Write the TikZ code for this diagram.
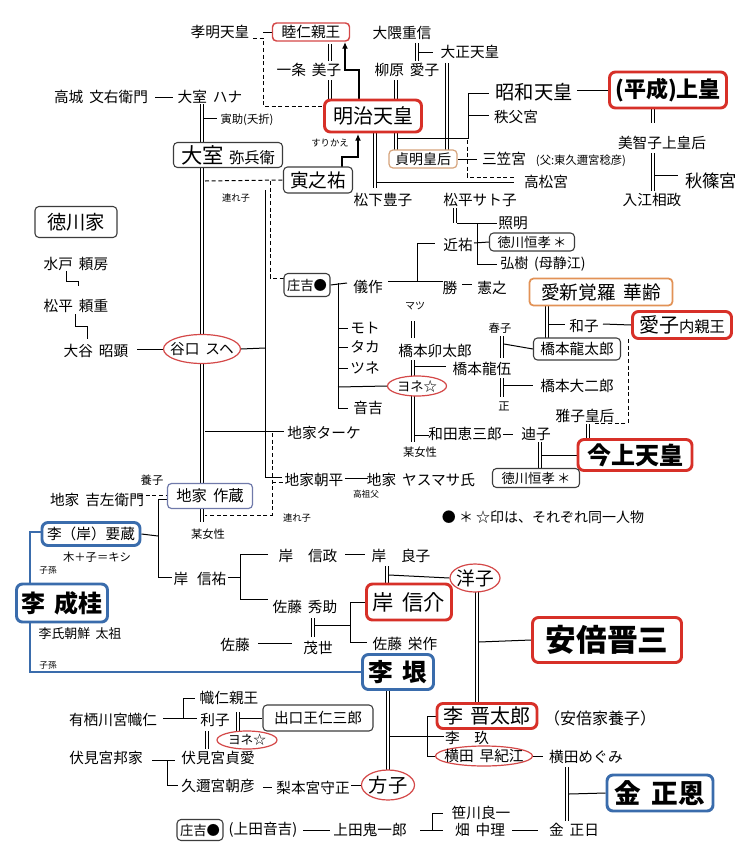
\documentclass[tikz,border=0pt]{standalone}
\usepackage{fontspec}
\setmainfont{Noto Sans CJK JP}
\usetikzlibrary{shapes.geometric,arrows.meta}
\pgfdeclarelayer{bg}
\pgfsetlayers{bg,main}
\newcommand\fsz[1]{\fontsize{#1}{#1}\selectfont}
\newcommand\jsp{\hspace{0.4em}}
\definecolor{redc}{RGB}{215,48,40}
\definecolor{redl}{RGB}{212,72,72}
\definecolor{bluec}{RGB}{58,108,172}
\definecolor{orangec}{RGB}{226,146,86}
\definecolor{tanc}{RGB}{214,164,124}
\definecolor{slatec}{RGB}{112,122,170}
\definecolor{boxgray}{RGB}{60,60,60}
\begin{document}
\begin{tikzpicture}[x=0.75pt,y=-0.75pt,
 T/.style={inner sep=0.5pt,font=\fsz{11}},
 F/.style={inner sep=0.5pt,font=\fsz{#1}},
 bx/.style 2 args={minimum width=#1*0.75pt,minimum height=#2*0.75pt,inner sep=0pt,fill=white,rounded corners=3pt},
 thinbox/.style={draw=boxgray,line width=0.8pt},
 redbox/.style={draw=redc,line width=2.2pt,rounded corners=4.5pt},
 bluebox/.style={draw=bluec,line width=2.2pt,rounded corners=4.5pt},
 ell/.style 2 args={ellipse,draw=redl,line width=0.9pt,fill=white,minimum width=#1*0.75pt,minimum height=#2*0.75pt,inner sep=0pt},
 ln/.style={line width=0.75pt},
 dbl/.style={double,double distance=1.6pt,line width=0.6pt},
 dsh/.style={line width=0.75pt,dash pattern=on 3pt off 2pt},
 arr/.style={line width=1.6pt,-{Latex[length=5pt,width=4.5pt]}},
 blu/.style={line width=2pt,draw=bluec},
]
\useasboundingbox (0,0) rectangle (750,864);

% ---------------- nodes ----------------
\node[T] (koumei) at (220,32) {孝明天皇};
\node[bx={77}{18},draw=redl,line width=1.1pt,font=\fsz{11}] (mutsu) at (311,32) {睦仁親王};
\node[T] (ookuma) at (402,33) {大隈重信};
\node[T] (taisho) at (470,52) {大正天皇};
\node[T] (ichijo) at (309,70) {一条\jsp 美子};
\node[T] (yanagi) at (407,70) {柳原\jsp 愛子};
\node[bx={97}{32},redbox,font=\fsz{15}] (meiji) at (373,116) {明治天皇};
\node[F=7] (surikae) at (330,143) {すりかえ};
\node[bx={69}{26},thinbox,font=\fsz{14}] (tora) at (318,180) {寅之祐};
\node[bx={68}{18},draw=tanc,line width=0.9pt,font=\fsz{10.5}] (teimei) at (423,159) {貞明皇后};
\node[T] (mikasa) at (504,159) {三笠宮};
\node[F=8.5] (chichi) at (581,161) {(父:東久邇宮稔彦)};
\node[T] (takamatsu) at (546,182) {高松宮};
\node[F=14.5] (showa) at (534,92) {昭和天皇};
\node[T] (chichibu) at (516,117) {秩父宮};
\node[bx={117}{36},redbox,font=\fsz{16.5}\bfseries] (heisei) at (668,90) {(平成)上皇};
\node[T] (michiko) at (662,143) {美智子上皇后};
\node[F=13] (akishino) at (711,181) {秋篠宮};
\node[T] (irie) at (652,200) {入江相政};
\node[T] (matsushita) at (383,200) {松下豊子};
\node[T] (satoko) at (480,200) {松平サト子};

\node[T] (kojo) at (101,97) {高城\jsp 文右衛門};
\node[T] (hana) at (210,97) {大室\jsp ハナ};
\node[F=8.5] (torasuke) at (247,120) {寅助(夭折)};
\node[bx={109}{25},thinbox] (yahei) at (228,155) {{\fsz{16}大室}\jsp{\fsz{11.5}弥兵衛}};
\node[F=7] (tsureko1) at (236,198) {連れ子};
\node[bx={82}{31},thinbox,font=\fsz{14.5}] (tokugawa) at (76,222) {徳川家};
\node[T] (mito) at (76,264) {水戸\jsp 頼房};
\node[T] (matsudaira) at (76,306) {松平\jsp 頼重};
\node[T] (ootani) at (96,351) {大谷\jsp 昭顕};
\node[ell={77}{29}] (taniguchi) at (202,349) {};
\node[T] (taniguchiT) at (taniguchi) {谷口\jsp スヘ};

\node[bx={46}{23},thinbox,font=\fsz{10}] (shokichi) at (307,285) {庄吉●};
\node[T] (gisaku) at (368,287) {儀作};
\node[T] (chikasuke) at (458,245) {近祐};
\node[T] (katsu) at (450,288) {勝};
\node[T] (noriyuki) at (492,288) {憲之};
\node[T] (teruaki) at (513,223) {照明};
\node[bx={85}{18},thinbox,font=\fsz{10}] (tsunenari1) at (532,242) {徳川恒孝\,＊};
\node[F=10.5] (hiroki) at (543,264) {弘樹\jsp(母静江)};
\node[F=7.5] (matsu) at (415,306) {マツ};
\node[T] (moto) at (365,328) {モト};
\node[T] (taka) at (365,347) {タカ};
\node[T] (tsune) at (365,368) {ツネ};
\node[T] (otokichi) at (368,408) {音吉};
\node[T] (hashiu) at (435,351) {橋本卯太郎};
\node[T] (ryugo) at (482,369) {橋本龍伍};
\node[ell={59}{20}] (yone1) at (417,386) {};
\node[F=10] (yone1T) at (yone1) {ヨネ☆};
\node[T] (wada) at (465,434) {和田恵三郎};
\node[T] (michi) at (536,434) {迪子};
\node[F=8.5] (bojo1) at (420,452) {某女性};
\node[bx={143}{27},draw=orangec,line width=1.3pt,font=\fsz{14}] (karei) at (601,292) {愛新覚羅\jsp 華齢};
\node[T] (kazuko) at (584,326) {和子};
\node[bx={99}{27},redbox] (aiko) at (682,325) {{\fsz{15}愛子}{\fsz{11.5}内親王}};
\node[F=8.5] (haruko) at (500,328) {春子};
\node[bx={87}{22},thinbox,font=\fsz{11}] (ryutaro) at (577,349) {橋本龍太郎};
\node[T] (daijiro) at (577,386) {橋本大二郎};
\node[F=8.5] (tadashi) at (504,406) {正};
\node[T] (masako) at (585,416) {雅子皇后};
\node[bx={114}{31},redbox,font=\fsz{18}\bfseries] (kinjo) at (635,455) {今上天皇};
\node[bx={87}{19},thinbox,font=\fsz{10}] (tsunenari2) at (536,478) {徳川恒孝\,＊};
\node[F=10.5,anchor=west] (note) at (441,517) {●\ ＊\ ☆印は、それぞれ同一人物};

\node[T] (jiketa) at (324,433) {地家ターケ};
\node[T] (asahira) at (314,480) {地家朝平};
\node[T] (yasumasa) at (421,480) {地家\jsp ヤスマサ氏};
\node[F=6.5] (kosofu) at (366,494) {高祖父};
\node[F=7] (tsureko2) at (297,518) {連れ子};
\node[F=8.5] (yoshi) at (152,480) {養子};
\node[T] (kichiza) at (97,500) {地家\jsp 吉左衛門};
\node[bx={85}{25},draw=slatec,line width=0.9pt,font=\fsz{11.5}] (sakuzo) at (210,496) {地家\jsp 作蔵};
\node[F=8.5] (bojo2) at (208,534) {某女性};
\node[bx={98}{23},bluebox,font=\fsz{11}] (yozo) at (91,534) {李（岸）要蔵};
\node[F=8.5] (kiplus) at (97,557) {木＋子＝キシ};
\node[F=6.5] (shison1) at (48,570) {子孫};
\node[bx={91}{38},bluebox,font=\fsz{18}\bfseries] (seikei) at (62,603) {李\jsp 成桂};
\node[F=9.7] (taiso) at (80,634) {李氏朝鮮\jsp 太祖};
\node[F=6.5] (shison2) at (48,665) {子孫};
\node[T] (nobusuke0) at (200,579) {岸\hspace{0.6em}信祐};
\node[T] (nobumasa) at (308,556) {岸　信政};
\node[T] (yoshiko) at (401,556) {岸　良子};
\node[ell={50}{28}] (yoko) at (475,578) {};
\node[F=14] (yokoT) at (yoko) {洋子};
\node[bx={85}{36},redbox,font=\fsz{16}] (nobusuke) at (409,602) {岸\jsp 信介};
\node[T] (hidesuke) at (305,607) {佐藤\jsp 秀助};
\node[T] (eisaku) at (405,644) {佐藤\jsp 栄作};
\node[T] (sato) at (235,645) {佐藤};
\node[T] (shigeyo) at (318,648) {茂世};
\node[bx={149}{45},redbox,font=\fsz{23}\bfseries] (abe) at (607,640) {安倍晋三};
\node[bx={71}{35},bluebox,font=\fsz{18.5}\bfseries] (rigin) at (398,672) {李\jsp 垠};
\node[bx={100}{25},redbox,font=\fsz{15}] (shintaro) at (487,716) {李\jsp 晋太郎};
\node[F=12] (abeyoshi) at (600,718) {（安倍家養子）};
\node[T] (rikyu) at (467,738) {李　玖};
\node[ell={97}{20}] (sakie) at (484,756) {};
\node[T] (sakieT) at (sakie) {横田\jsp 早紀江};
\node[T] (megumi) at (586,757) {横田めぐみ};
\node[bx={106}{36},bluebox,font=\fsz{20}\bfseries] (kju) at (660,793) {金\jsp 正恩};
\node[T] (kji) at (574,830) {金\jsp 正日};
\node[T] (sasakawa) at (481,813) {笹川良一};
\node[T] (hata) at (480,830) {畑\jsp 中理};
\node[T] (onisaburo) at (370,830) {上田鬼一郎};
\node[T] (ueda) at (263,830) {(上田音吉)};
\node[bx={46}{21},thinbox,font=\fsz{10}] (shokichi2) at (200,830) {庄吉●};
\node[T] (arisu) at (113,720) {有栖川宮幟仁};
\node[T] (takahito) at (229,698) {幟仁親王};
\node[T] (rishi) at (215,720) {利子};
\node[bx={110}{26},thinbox,font=\fsz{11}] (deguchi) at (318,718) {出口王仁三郎};
\node[ell={60}{18}] (yone2) at (247,740) {};
\node[F=9.5] (yone2T) at (yone2) {ヨネ☆};
\node[T] (kuniie) at (106,758) {伏見宮邦家};
\node[T] (sadanaru) at (218,758) {伏見宮貞愛};
\node[T] (asahiko) at (218,786) {久邇宮朝彦};
\node[T] (morimasa) at (313,788) {梨本宮守正};
\node[ell={53}{30}] (masako2) at (388,785) {};
\node[F=14.5] (masako2T) at (masako2) {方子};

% ---------------- connectors ----------------
\begin{pgfonlayer}{bg}
\fill[white] (0,0) rectangle (750,864);
% imperial line
\draw[ln] (263,32) -- (mutsu.west);
\draw[dsh] (253,38) -- (263,38) -- (263,106) -- (meiji.west |- 0,106);
\draw[dbl] (330,44) -- (330,61);
\draw[dbl] (330,80) -- (330,101);
\draw[arr] (359,101) -- (359,70) -- (345,70) -- (345,42);
\draw[dbl] (417,43) -- (417,61);
\draw[ln] (419,52) -- (433,52);
\draw[dbl] (396,80) -- (396,150);
\draw[dbl] (447,63) -- (447,150);
\draw[ln] (398,138) -- (468,138) -- (468,93) -- (489,93);
\draw[ln] (468,115) -- (489,115);
\draw[dbl] (375,132) -- (375,188);
\draw[ln] (377,182) -- (514,182);
\draw[dsh] (467,140) -- (467,177) -- (514,177);
\draw[ln] (teimei.east) -- (477,159);
\draw[ln] (577,90) -- (heisei.west);
\draw[dbl] (653,108) -- (653,123);
\draw[dbl] (653,153) -- (653,191);
\draw[ln] (655,175) -- (678,175);
% omuro
\draw[ln] (155,97) -- (173,97);
\draw[dbl,double distance=2pt] (202,104) -- (202,522);
\draw[ln] (204,118) -- (217,118);
\draw[arr] (342,167) -- (342,157) -- (358,157) -- (358,134);
\draw[dsh] (205,181) -- (tora.west);
\draw[dsh] (270,181) -- (270,278) -- (284,278);
\draw[ln] (265,190) -- (265,477) -- (282,477);
\draw[ln] (taniguchi.east) -- (265,348);
% tokugawa
\draw[ln] (66,271) -- (66,281) -- (78,281) -- (78,286);
\draw[ln] (75,314) -- (75,326) -- (87,326) -- (87,339);
\draw[ln] (137,349) -- (taniguchi.west);
% shokichi
\draw[ln] (shokichi.east) -- (347,283);
\draw[ln] (338,283) -- (338,408) -- (348,408);
\draw[ln] (338,328) -- (348,328);
\draw[ln] (338,347) -- (348,347);
\draw[ln] (338,368) -- (348,368);
\draw[ln] (338,387) -- (yone1.west);
\draw[ln] (388,281) -- (443,281);
\draw[ln] (417,281) -- (417,243) -- (435,243);
\draw[ln] (462,284) -- (472,284);
\draw[dbl] (455,208) -- (455,223);
\draw[ln] (457,223) -- (497,223);
\draw[ln] (477,223) -- (477,264) -- (497,264);
\draw[ln] (474,243) -- (tsunenari1.west);
% hashimoto
\draw[dbl] (413,321) -- (413,338);
\draw[dbl] (413,360) -- (413,377);
\draw[ln] (415,366) -- (446,366);
\draw[dbl] (413,396) -- (413,442);
\draw[ln] (415,435) -- (429,435);
\draw[ln] (503,434) -- (513,434);
\draw[dbl] (502,336) -- (502,358);
\draw[dbl] (502,378) -- (502,397);
\draw[ln] (504,344) -- (ryutaro.west);
\draw[ln] (504,385) -- (533,385);
\draw[dbl] (547,306) -- (547,338);
\draw[ln] (549,324) -- (565,324);
\draw[ln] (603,324) -- (aiko.west);
\draw[dsh] (628,339) -- (628,423) -- (594,423);
\draw[dbl] (588,424) -- (588,440);
\draw[dbl] (540,442) -- (540,469);
\draw[ln] (542,455) -- (kinjo.west);
% jike
\draw[ln] (205,431) -- (284,431);
\draw[ln] (345,478) -- (368,478);
\draw[dsh] (272,433) -- (272,515) -- (205,515);
\draw[dsh] (272,482) -- (285,482);
\draw[dsh] (139,495) -- (168,495);
\draw[ln] (168,499) -- (158,499) -- (158,577) -- (172,577);
\draw[ln] (158,536) -- (yozo.east);
\draw[blu] (42,532) -- (30,532) -- (seikei.north -| 30,0);
\draw[blu] (30,622) -- (30,672) -- (rigin.west);
% kishi
\draw[ln] (228,577) -- (240,577);
\draw[ln] (268,554) -- (240,554) -- (240,599) -- (268,599);
\draw[ln] (345,554) -- (365,554);
\draw[dbl] (387,566) -- (387,585);
\draw[ln] (389,575) -- (yoko.west);
\draw[dbl] (313,618) -- (313,637);
\draw[ln] (315,625) -- (350,625);
\draw[ln] (nobusuke.west |- 0,602) -- (350,602) -- (350,642) -- (367,642);
\draw[ln] (258,643) -- (292,643);
\draw[dbl] (477,592) -- (477,704);
\draw[ln] (479,642) -- (abe.west);
% ri
\draw[dbl] (388,690) -- (388,770);
\draw[ln] (390,736) -- (444,736);
\draw[ln] (shintaro.west) -- (427,716) -- (427,756) -- (sakie.west);
\draw[ln] (533,756) -- (543,756);
\draw[dbl] (567,767) -- (567,821);
\draw[ln] (569,794) -- (kju.west);
\draw[ln] (512,830) -- (538,830);
\draw[ln] (420,830) -- (443,830);
\draw[ln] (432,830) -- (432,813) -- (443,813);
\draw[ln] (303,830) -- (330,830);
% arisugawa / fushimi
\draw[ln] (163,718) -- (197,718);
\draw[ln] (183,718) -- (183,698) -- (195,698);
\draw[dbl] (238,712) -- (238,731);
\draw[ln] (240,718) -- (deguchi.west);
\draw[dbl] (207,731) -- (207,749);
\draw[ln] (152,760) -- (175,760);
\draw[ln] (167,760) -- (167,785) -- (178,785);
\draw[ln] (263,787) -- (272,787);
\draw[ln] (351,785) -- (masako2.west);
\end{pgfonlayer}
\end{tikzpicture}
\end{document}
